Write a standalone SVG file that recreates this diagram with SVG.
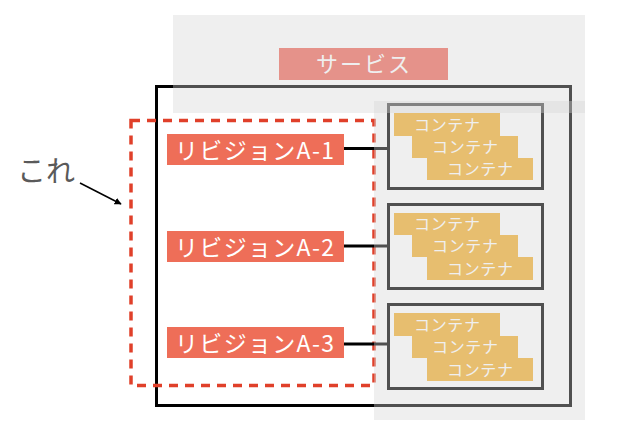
<svg xmlns="http://www.w3.org/2000/svg" width="640" height="442" viewBox="0 0 640 442">
<style>
.rev{fill:#EE6E58}
.revt{font-family:"Noto Sans CJK JP","Noto Sans",sans-serif;font-size:23px;fill:#fff}
.box{fill:none;stroke:#000;stroke-width:3}
.cl{fill:#F3B033}
.ct{font-family:"Noto Sans CJK JP",sans-serif;font-size:16px;fill:#fff}
.ov{fill:rgb(213,213,213);fill-opacity:0.376}
.conn{stroke:#000;stroke-width:3;fill:none}
</style>
<defs>
<marker id="ah" viewBox="0 0 10 10" refX="9" refY="5" markerWidth="7" markerHeight="7" orient="auto" markerUnits="userSpaceOnUse">
<path d="M0,0 L10,5 L0,10 z" fill="#000"/>
</marker>
</defs>
<g id="service">
<rect x="279" y="48" width="169" height="32" fill="#EF6A5D"/>
<text x="316" y="72" textLength="94" lengthAdjust="spacing" style="font-family:'Noto Sans CJK JP',sans-serif;font-size:22px;fill:#fff">サービス</text>
</g>
<g id="frame">
<rect x="156.5" y="86.5" width="414" height="319" class="box"/>
</g>
<g id="this-group">
<rect x="131" y="120.5" width="243" height="265" fill="none" stroke="#E0402A" stroke-width="3.5" stroke-dasharray="9,7"/>
</g>
<g id="connectors">
<line x1="344" y1="148.5" x2="388" y2="148.5" class="conn"/>
<line x1="344" y1="246" x2="388" y2="246" class="conn"/>
<line x1="344" y1="344" x2="388" y2="344" class="conn"/>
<line x1="80" y1="183" x2="121" y2="204" stroke="#000" stroke-width="1.5" marker-end="url(#ah)"/>
</g>
<g id="rev1">
<rect x="167" y="134" width="177" height="31" class="rev"/>
<text x="175" y="158.5" textLength="159" lengthAdjust="spacing" class="revt">リビジョンA-1</text>
</g>
<g id="rev2">
<rect x="167" y="231" width="177" height="31" class="rev"/>
<text x="175" y="255.5" textLength="159" lengthAdjust="spacing" class="revt">リビジョンA-2</text>
</g>
<g id="rev3">
<rect x="167" y="327" width="177" height="31" class="rev"/>
<text x="175" y="351.5" textLength="159" lengthAdjust="spacing" class="revt">リビジョンA-3</text>
</g>
<g id="pod1">
<rect x="388.5" y="104.5" width="154" height="84" class="box"/>
<rect x="394" y="113" width="106" height="23" class="cl"/>
<text x="414" y="130.5" textLength="66" class="ct">コンテナ</text>
<rect x="412" y="136" width="106" height="22" class="cl"/>
<text x="432" y="152.5" textLength="66" class="ct">コンテナ</text>
<rect x="427" y="158" width="106" height="22" class="cl"/>
<text x="447" y="174.5" textLength="66" class="ct">コンテナ</text>
</g>
<g id="pod2">
<rect x="388.5" y="204.5" width="154" height="84" class="box"/>
<rect x="394" y="213" width="106" height="22" class="cl"/>
<text x="414" y="229.5" textLength="66" class="ct">コンテナ</text>
<rect x="412" y="235" width="106" height="22" class="cl"/>
<text x="432" y="251.5" textLength="66" class="ct">コンテナ</text>
<rect x="427" y="257" width="106" height="23" class="cl"/>
<text x="447" y="274.5" textLength="66" class="ct">コンテナ</text>
</g>
<g id="pod3">
<rect x="388.5" y="304.5" width="154" height="84" class="box"/>
<rect x="394" y="313" width="106" height="23" class="cl"/>
<text x="414" y="330.5" textLength="66" class="ct">コンテナ</text>
<rect x="412" y="336" width="106" height="22" class="cl"/>
<text x="432" y="352.5" textLength="66" class="ct">コンテナ</text>
<rect x="427" y="358" width="106" height="23" class="cl"/>
<text x="447" y="375.5" textLength="66" class="ct">コンテナ</text>
</g>
<g id="overlays">
<rect x="173" y="15" width="412" height="98" class="ov"/>
<rect x="374" y="101" width="211" height="319" class="ov"/>
</g>
<g id="label-this">
<text x="17" y="182" style="font-family:'Noto Sans CJK JP',sans-serif;font-size:29px;fill:#5a5a5a">これ</text>
</g>
</svg>
